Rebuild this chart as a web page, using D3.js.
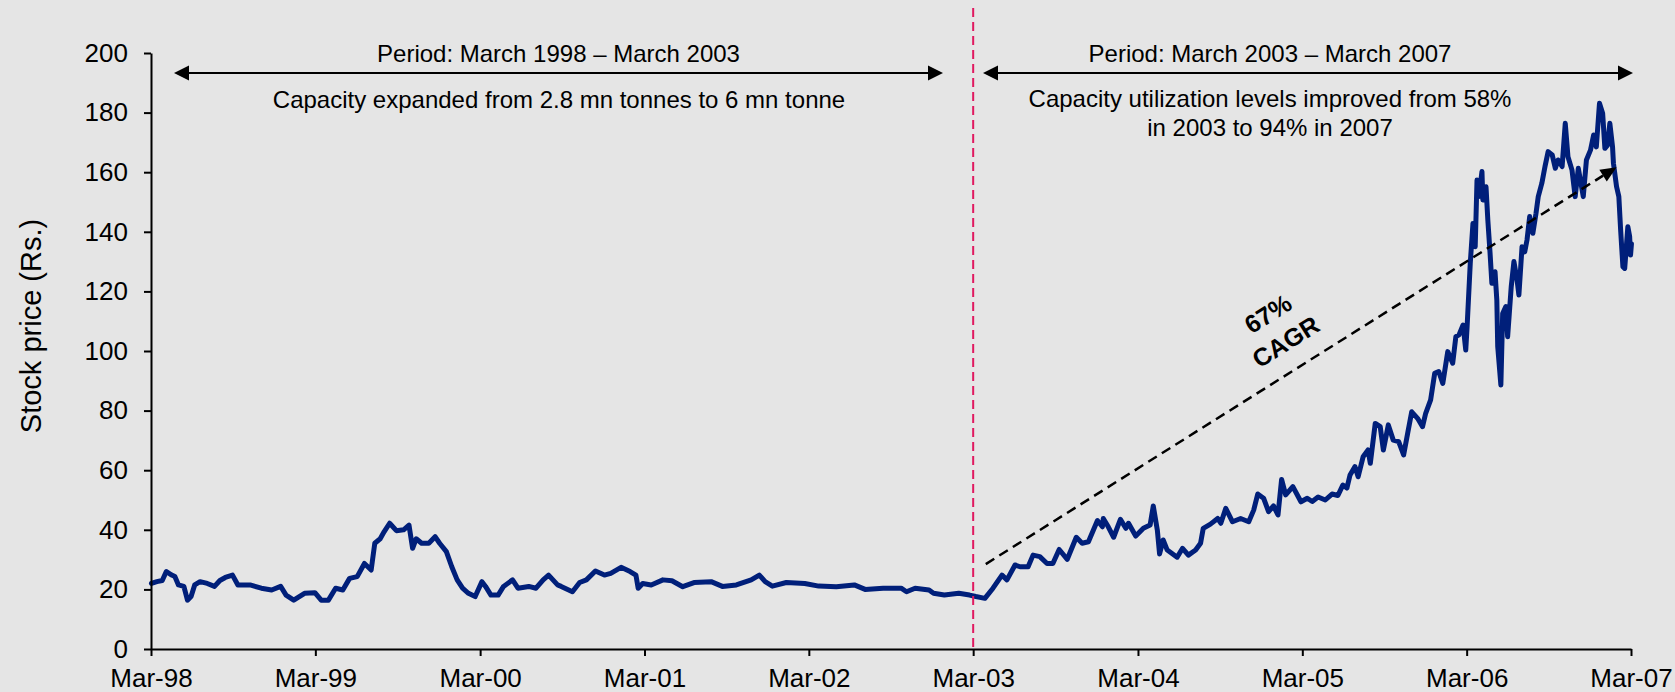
<!DOCTYPE html>
<html><head><meta charset="utf-8">
<script src="https://cdn.jsdelivr.net/npm/d3@7"></script>
<style>
html,body{margin:0;padding:0;background:#e5e5e5;}
svg{display:block;font-family:Arial,"Liberation Sans",sans-serif;}
</style>
</head><body>
<svg id="c" width="1675" height="692"></svg>
<script>
// ---------------- data ----------------
const dates = [
"1998-03-02","1998-03-14","1998-03-26","1998-04-04","1998-04-16","1998-04-23","1998-05-01","1998-05-13","1998-05-21","1998-05-29",
"1998-06-06","1998-06-18","1998-07-04","1998-07-20","1998-08-01","1998-08-13","1998-08-29","1998-09-10","1998-10-07","1998-11-01",
"1998-11-24","1998-12-14","1998-12-26","1999-01-12","1999-02-05","1999-02-28","1999-03-14","1999-03-30","1999-04-15","1999-05-01",
"1999-05-16","1999-06-02","1999-06-18","1999-07-03","1999-07-11","1999-07-23","1999-08-01","1999-08-13","1999-08-28","1999-09-13",
"1999-09-25","1999-10-03","1999-10-11","1999-10-23","1999-11-08","1999-11-22","1999-12-02","1999-12-17","1999-12-29","2000-01-10",
"2000-01-22","2000-02-04","2000-02-19","2000-03-05","2000-03-13","2000-03-25","2000-04-10","2000-04-22","2000-05-12","2000-05-24",
"2000-06-17","2000-07-03","2000-07-19","2000-07-31","2000-08-20","2000-08-28","2000-09-22","2000-10-08","2000-10-23","2000-11-12",
"2000-12-02","2000-12-16","2001-01-08","2001-01-28","2001-02-10","2001-02-15","2001-02-25","2001-03-16","2001-04-11","2001-05-01",
"2001-05-25","2001-06-19","2001-07-27","2001-08-21","2001-09-21","2001-10-24","2001-11-11","2001-11-24","2001-12-10","2002-01-10",
"2002-02-20","2002-03-23","2002-05-01","2002-06-10","2002-07-04","2002-08-13","2002-09-22","2002-10-04","2002-10-23","2002-11-23",
"2002-12-03","2002-12-27","2003-01-28","2003-02-21","2003-03-07","2003-03-27","2003-04-14","2003-05-04","2003-05-15","2003-06-02",
"2003-06-13","2003-07-01","2003-07-12","2003-07-27","2003-08-12","2003-08-25","2003-09-08","2003-09-26","2003-10-16","2003-10-29",
"2003-11-12","2003-12-02","2003-12-13","2003-12-15","2003-12-26","2004-01-07","2004-01-22","2004-02-03","2004-02-09","2004-02-25",
"2004-03-13","2004-03-28","2004-04-04","2004-04-13","2004-04-18","2004-04-26","2004-05-05","2004-05-27","2004-06-08","2004-06-21",
"2004-07-07","2004-07-18","2004-07-24","2004-08-09","2004-08-25","2004-09-01","2004-09-12","2004-09-27","2004-10-15","2004-11-02",
"2004-11-13","2004-11-22","2004-12-05","2004-12-16","2004-12-27","2005-01-06","2005-01-14","2005-01-23","2005-02-08","2005-02-26",
"2005-03-12","2005-03-23","2005-04-05","2005-04-21","2005-05-06","2005-05-19","2005-05-30","2005-06-08","2005-06-15","2005-06-26",
"2005-07-03","2005-07-14","2005-07-25","2005-07-30","2005-08-10","2005-08-21","2005-08-28","2005-09-08","2005-09-19","2005-10-01",
"2005-10-12","2005-10-21","2005-10-30","2005-11-12","2005-11-23","2005-11-30","2005-12-11","2005-12-20","2005-12-29","2006-01-07",
"2006-01-18","2006-01-29","2006-02-05","2006-02-12","2006-02-21","2006-02-27","2006-03-02","2006-03-09","2006-03-15","2006-03-20",
"2006-03-24","2006-03-28","2006-04-04","2006-04-06","2006-04-13","2006-04-17","2006-04-22","2006-04-26","2006-05-03","2006-05-07",
"2006-05-09","2006-05-16","2006-05-20","2006-05-27","2006-05-31","2006-06-08","2006-06-14","2006-06-21","2006-06-25","2006-07-02",
"2006-07-08","2006-07-13","2006-07-19","2006-07-26","2006-08-02","2006-08-07","2006-08-15","2006-08-22","2006-08-29","2006-09-07",
"2006-09-14","2006-09-20","2006-09-29","2006-10-06","2006-10-12","2006-10-21","2006-10-28","2006-11-04","2006-11-15","2006-11-22",
"2006-12-01","2006-12-08","2006-12-14","2006-12-21","2006-12-28","2007-01-02","2007-01-08","2007-01-13","2007-01-19","2007-01-21",
"2007-01-28","2007-02-02","2007-02-06","2007-02-11","2007-02-15","2007-02-22","2007-02-26","2007-02-28","2007-03-02"
];
const prices = [
22,22.6,23,26,24.8,24.3,21.5,21,16.4,17.6,
21.5,22.6,22,21,23,24,24.8,21.5,21.5,20.4,
19.8,21,18.1,16.4,18.7,18.9,16.4,16.4,20.4,19.8,
23.7,24.3,28.7,26.5,35.5,37,39.4,42.2,39.7,40,
41.6,33.8,37,35.5,35.5,37.7,35.5,32.7,27.6,23.2,
20.4,18.7,17.6,22.6,21,18.1,18.1,21,23.2,20.4,
21,20.4,23.2,24.8,21.5,21,19.2,22.3,23.2,26.2,
24.8,25.4,27.4,26,24.8,20.4,22,21.5,23.2,22.9,
20.9,22.3,22.6,21,21.5,23.2,24.8,22.6,21.1,22.3,
22,21.1,20.9,21.5,20,20.4,20.4,19.2,20.4,19.8,
18.7,18.1,18.7,18.1,17.6,17,20.4,24.8,23.2,28.2,
27.6,27.6,31.5,31,28.7,28.7,33.4,30.1,37.5,35.5,
36,43.1,41,43.8,41,37.5,43.5,40.5,42.2,37.9,
40.5,41.6,48,39.9,31.9,36.6,33.2,30.8,33.8,31.5,
33.2,35.5,40.5,41.9,43.8,42.2,47.2,42.7,43.8,42.7,
46.6,52,50.6,46.1,48,45,56.9,51.7,54.5,49.4,
50.6,49.5,51,50,52,51.5,55,54,58.4,61.2,
57.8,64.5,66.8,62.3,75.7,74.6,66.8,75.2,70.1,69.6,
65.1,72.4,79.6,77.4,74.6,79.1,83.6,92.5,93.1,89.1,
99.8,95.9,104.8,105.4,108.7,100.3,108.2,129.4,142.8,135,
157.4,151.8,160.2,150.7,155.1,144,132.8,122.7,126.6,117.1,
101.5,88.6,112.6,114.9,104.8,121.6,130,123.8,118.8,135,
133.3,137.2,145.1,139.5,146.2,151.8,156.3,161.9,166.9,165.8,
161.3,164.1,161.9,176.4,165.2,160.7,151.8,161.3,151.8,164.1,
167.4,172.5,168.5,183.1,179.8,168,169.1,176.4,168.5,163,
155.1,151.8,140.6,128.3,127.7,141.7,138.4,132.2,136
];
const xTickDates = ["1998-03-01","1999-03-01","2000-03-01","2001-03-01","2002-03-01","2003-03-01","2004-03-01","2005-03-01","2006-03-01","2007-03-01"];
const xTickLabels = ["Mar-98","Mar-99","Mar-00","Mar-01","Mar-02","Mar-03","Mar-04","Mar-05","Mar-06","Mar-07"];
const yTicks = [0,20,40,60,80,100,120,140,160,180,200];
const yTitle = "Stock price (Rs.)";
const periodLabels = ["Period: March 1998 \u2013 March 2003","Period: March 2003 \u2013 March 2007"];
const periodNote1 = ["Capacity expanded from 2.8 mn tonnes to 6 mn tonne"];
const periodNote2 = ["Capacity utilization levels improved from 58%","in 2003 to 94% in 2007"];
const cagrLabel = ["67%","CAGR"];
const cagrFrom = ["2003-03-29", 28.5];
const cagrTo = ["2007-01-28", 161.7];
const splitDate = "2003-03-01";

// ---------------- chart ----------------
const W = 1675, H = 692;
const L = 151, R = 1631, T = 53, B = 649;
const FONT = "Arial, 'Liberation Sans', sans-serif";
const parse = d3.timeParse("%Y-%m-%d");
const x = d3.scaleTime().domain([parse(xTickDates[0]), parse(xTickDates[xTickDates.length-1])]).range([L, R]);
const y = d3.scaleLinear().domain([0, 200]).range([B, T]);

const svg = d3.select("#c");
svg.append("rect").attr("width", W).attr("height", H).attr("fill", "#e5e5e5");

// series
const pts = dates.map((d, i) => ({d: parse(d), v: prices[i]}));
svg.append("path").datum(pts)
  .attr("d", d3.line().x(p => x(p.d)).y(p => y(p.v)))
  .attr("fill", "none").attr("stroke", "#001f7a").attr("stroke-width", 5)
  .attr("stroke-linejoin", "round").attr("stroke-linecap", "round");

// split line
const xs = x(parse(splitDate));
svg.append("line").attr("x1", xs).attr("x2", xs).attr("y1", 8).attr("y2", B)
  .attr("stroke", "#e0195f").attr("stroke-width", 2).attr("stroke-dasharray", "9,5");

// axes
const gx = svg.append("g").attr("transform", `translate(0,${B})`)
  .call(d3.axisBottom(x).tickValues(xTickDates.map(parse)).tickFormat((d, i) => xTickLabels[i])
    .tickSize(7).tickSizeOuter(0).tickPadding(13));
const gy = svg.append("g").attr("transform", `translate(${L},0)`)
  .call(d3.axisLeft(y).tickValues(yTicks).tickSize(7).tickSizeOuter(0).tickPadding(16));
[gx, gy].forEach(g => {
  g.attr("font-size", 26).attr("font-family", FONT);
  g.selectAll("path,line").attr("stroke", "#000").attr("stroke-width", 2);
  g.selectAll("text").attr("fill", "#000");
});

svg.append("text").attr("transform", "translate(41,326) rotate(-90)")
  .attr("text-anchor", "middle").attr("font-size", 29).attr("font-family", FONT).attr("fill", "#000")
  .text(yTitle);

// period arrows
function hArrow(x1, x2, yy) {
  const g = svg.append("g");
  const h = 15, hw = 7.5;
  g.append("line").attr("x1", x1 + h - 1).attr("x2", x2 - h + 1).attr("y1", yy).attr("y2", yy)
    .attr("stroke", "#000").attr("stroke-width", 2);
  g.append("path").attr("d", `M${x1},${yy} L${x1 + h},${yy - hw} L${x1 + h},${yy + hw} Z`).attr("fill", "#000");
  g.append("path").attr("d", `M${x2},${yy} L${x2 - h},${yy - hw} L${x2 - h},${yy + hw} Z`).attr("fill", "#000");
}
const arrowY = 73;
hArrow(174, 943, arrowY);
hArrow(983, 1633, arrowY);

function txt(s, tx, ty, opts = {}) {
  return svg.append("text").attr("x", tx).attr("y", ty).attr("text-anchor", "middle")
    .attr("font-size", 24).attr("font-family", FONT).attr("fill", "#000")
    .attr("font-weight", opts.bold ? "bold" : null).text(s);
}
txt(periodLabels[0], 558.5, 62);
txt(periodLabels[1], 1270, 62);
txt(periodNote1[0], 559, 108);
txt(periodNote2[0], 1270, 107);
txt(periodNote2[1], 1270, 136);

// CAGR dashed arrow
const ax1 = x(parse(cagrFrom[0])), ay1 = y(cagrFrom[1]);
const ax2 = x(parse(cagrTo[0])), ay2 = y(cagrTo[1]);
const ang = Math.atan2(ay2 - ay1, ax2 - ax1);
const headL = 16, headW = 7;
const bx = ax2 - headL * Math.cos(ang), by = ay2 - headL * Math.sin(ang);
svg.append("line").attr("x1", ax1).attr("y1", ay1).attr("x2", bx).attr("y2", by)
  .attr("stroke", "#000").attr("stroke-width", 2.5).attr("stroke-dasharray", "10,6");
const px = -Math.sin(ang), py = Math.cos(ang);
svg.append("path")
  .attr("d", `M${ax2},${ay2} L${bx + px * headW},${by + py * headW} L${bx - px * headW},${by - py * headW} Z`)
  .attr("fill", "#000");

// CAGR label
const deg = ang * 180 / Math.PI;
const lg = svg.append("g").attr("transform", `translate(1277,328) rotate(${deg})`);
lg.append("text").attr("x", 0).attr("y", -8).attr("text-anchor", "middle").attr("font-size", 25)
  .attr("font-weight", "bold").attr("font-family", FONT).attr("fill", "#000").text(cagrLabel[0]);
lg.append("text").attr("x", 0).attr("y", 25).attr("text-anchor", "middle").attr("font-size", 25)
  .attr("font-weight", "bold").attr("font-family", FONT).attr("fill", "#000").text(cagrLabel[1]);
</script>
</body></html>
